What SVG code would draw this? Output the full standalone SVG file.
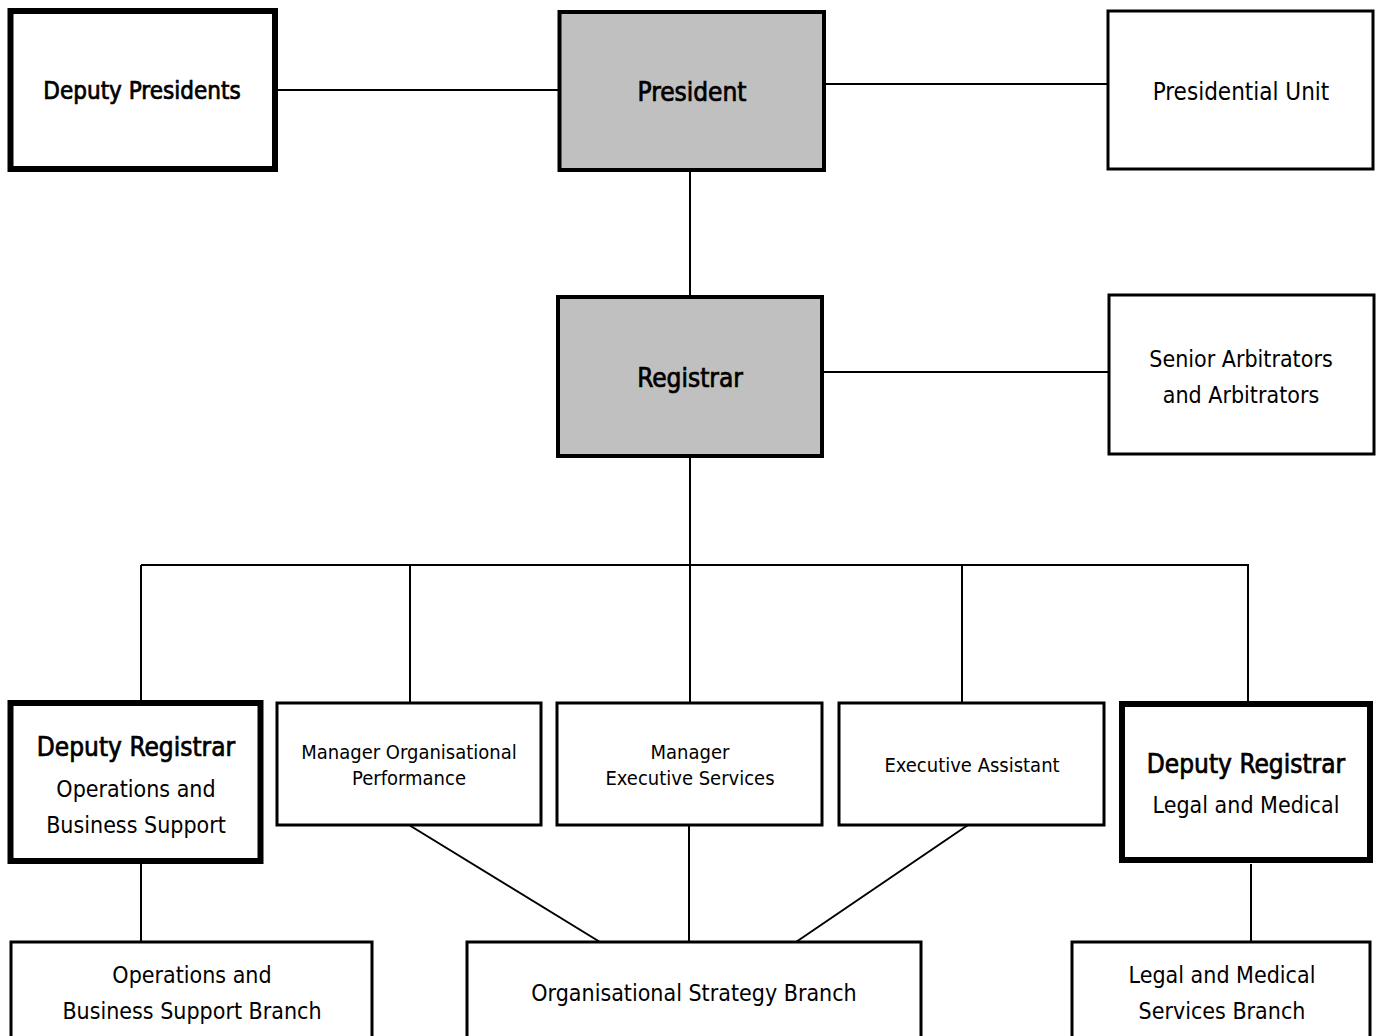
<svg xmlns="http://www.w3.org/2000/svg" width="1380" height="1036" viewBox="0 0 1380 1036">
<style>
text{font-family:"DejaVu Sans Condensed","Liberation Sans",sans-serif;fill:#000;text-anchor:middle;font-size:23px}
.b{stroke:#000;stroke-width:0.7;font-size:26px}
.s{font-size:20px}
.box{fill:#fff;stroke:#000;stroke-width:3}
.thick{fill:#fff;stroke:#000;stroke-width:6}
.gray{fill:#c0c0c0;stroke:#000;stroke-width:4}
.c line{stroke:#000;stroke-width:2}
</style>
<rect width="1380" height="1036" fill="#fff"/>
<g class="c">
<line x1="275" y1="90" x2="559" y2="90"/>
<line x1="824" y1="84" x2="1108" y2="84"/>
<line x1="690" y1="170" x2="690" y2="297"/>
<line x1="822" y1="372" x2="1109" y2="372"/>
<line x1="690" y1="456" x2="690" y2="565"/>
<line x1="141" y1="565" x2="1249" y2="565"/>
<line x1="141" y1="565" x2="141" y2="702"/>
<line x1="410" y1="565" x2="410" y2="702"/>
<line x1="690" y1="565" x2="690" y2="702"/>
<line x1="962" y1="565" x2="962" y2="702"/>
<line x1="1248" y1="565" x2="1248" y2="702"/>
<line x1="141" y1="862" x2="141" y2="942"/>
<line x1="409" y1="825" x2="600" y2="942"/>
<line x1="689" y1="825" x2="689" y2="942"/>
<line x1="968" y1="825" x2="796" y2="942"/>
<line x1="1251" y1="864" x2="1251" y2="942"/>
</g>
<g id="deputy-presidents"><rect class="thick" x="10.5" y="11" width="264.5" height="158"/><text class="b" x="142" y="99" style="font-size:24px">Deputy Presidents</text></g>
<g id="president"><rect class="gray" x="559.5" y="12" width="264.5" height="158"/><text class="b" x="692" y="101">President</text></g>
<g id="presidential-unit"><rect class="box" x="1108" y="11" width="265" height="158"/><text x="1241" y="100" style="font-size:24px">Presidential Unit</text></g>
<g id="registrar"><rect class="gray" x="558" y="297" width="264" height="159"/><text class="b" x="690" y="387">Registrar</text></g>
<g id="senior-arbitrators"><rect class="box" x="1109" y="295" width="265" height="159"/><text x="1241" y="367">Senior Arbitrators</text><text x="1241" y="403">and Arbitrators</text></g>
<g id="deputy-registrar-obs"><rect class="thick" x="10.5" y="703" width="250" height="158"/><text class="b" x="136" y="756">Deputy Registrar</text><text x="136" y="797">Operations and</text><text x="136" y="833">Business Support</text></g>
<g id="manager-org-perf"><rect class="box" x="277" y="703" width="264" height="122"/><text class="s" x="409" y="759">Manager Organisational</text><text class="s" x="409" y="785">Performance</text></g>
<g id="manager-exec-services"><rect class="box" x="557" y="703" width="265" height="122"/><text class="s" x="690" y="759">Manager</text><text class="s" x="690" y="785">Executive Services</text></g>
<g id="executive-assistant"><rect class="box" x="839" y="703" width="265" height="122"/><text class="s" x="972" y="772">Executive Assistant</text></g>
<g id="deputy-registrar-lm"><rect class="thick" x="1122" y="704" width="248" height="156"/><text class="b" x="1246" y="773">Deputy Registrar</text><text x="1246" y="813">Legal and Medical</text></g>
<g id="obs-branch"><rect class="box" x="11" y="942" width="361" height="110"/><text x="192" y="983">Operations and</text><text x="192" y="1019">Business Support Branch</text></g>
<g id="org-strategy-branch"><rect class="box" x="467" y="942" width="454" height="110"/><text x="694" y="1001">Organisational Strategy Branch</text></g>
<g id="lm-branch"><rect class="box" x="1072" y="942" width="298" height="110"/><text x="1222" y="983">Legal and Medical</text><text x="1222" y="1019">Services Branch</text></g>
</svg>
